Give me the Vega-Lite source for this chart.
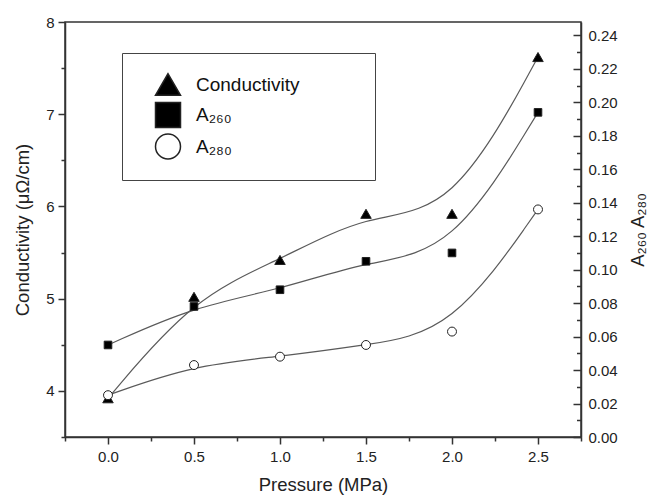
{
  "$schema": "https://vega.github.io/schema/vega-lite/v6.json",
  "width": 516,
  "height": 415,
  "autosize": "none",
  "padding": {"left": 65, "top": 22, "right": 75, "bottom": 61},
  "background": "white",
  "data": {
    "values": [
      {"p": 0, "series": "Conductivity", "cond": 3.92},
      {"p": 0.5, "series": "Conductivity", "cond": 5.02},
      {"p": 1.0, "series": "Conductivity", "cond": 5.42},
      {"p": 1.5, "series": "Conductivity", "cond": 5.92},
      {"p": 2.0, "series": "Conductivity", "cond": 5.92},
      {"p": 2.5, "series": "Conductivity", "cond": 7.62},
      {"p": 0, "series": "A₂₆₀", "abs": 0.055},
      {"p": 0.5, "series": "A₂₆₀", "abs": 0.078},
      {"p": 1.0, "series": "A₂₆₀", "abs": 0.088},
      {"p": 1.5, "series": "A₂₆₀", "abs": 0.105},
      {"p": 2.0, "series": "A₂₆₀", "abs": 0.110},
      {"p": 2.5, "series": "A₂₆₀", "abs": 0.194},
      {"p": 0, "series": "A₂₈₀", "abs": 0.025},
      {"p": 0.5, "series": "A₂₈₀", "abs": 0.043},
      {"p": 1.0, "series": "A₂₈₀", "abs": 0.048},
      {"p": 1.5, "series": "A₂₈₀", "abs": 0.055},
      {"p": 2.0, "series": "A₂₈₀", "abs": 0.063},
      {"p": 2.5, "series": "A₂₈₀", "abs": 0.136}
    ]
  },
  "encoding": {
    "x": {
      "field": "p",
      "type": "quantitative",
      "scale": {"domain": [-0.25, 2.75], "nice": false, "zero": false},
      "axis": {
        "title": "Pressure (MPa)",
        "values": [-0.25, 0, 0.25, 0.5, 0.75, 1, 1.25, 1.5, 1.75, 2, 2.25, 2.5, 2.75],
        "labelExpr": "round(datum.value*4) % 2 === 0 ? format(datum.value, '.1f') : ''",
        "tickSize": {"condition": {"test": "round(datum.value*4) % 2 === 0", "value": 7}, "value": 4},
        "labelPadding": 5,
        "titlePadding": 11,
        "labelFlush": false,
        "labelOverlap": false
      }
    }
  },
  "layer": [
    {
      "transform": [{"filter": "datum.series === 'Conductivity'"}],
      "encoding": {
        "y": {
          "field": "cond",
          "type": "quantitative",
          "scale": {"domain": [3.5, 8], "nice": false, "zero": false},
          "axis": {
            "orient": "left",
            "title": "Conductivity (μΩ/cm)",
            "values": [3.5, 4, 4.5, 5, 5.5, 6, 6.5, 7, 7.5, 8],
            "labelExpr": "datum.value % 1 === 0 ? format(datum.value, 'd') : ''",
            "tickSize": {"condition": {"test": "datum.value % 1 === 0", "value": 7}, "value": 4},
            "labelPadding": 4,
            "titlePadding": 13,
            "labelFlush": false,
            "labelOverlap": false
          }
        }
      },
      "layer": [
        {
          "mark": {"type": "line", "interpolate": "basis", "color": "#5a5a5a", "strokeWidth": 1.2}
        },
        {
          "mark": {"type": "point", "filled": true, "stroke": "#222", "strokeWidth": 1, "opacity": 1, "size": 110},
          "encoding": {
            "shape": {
              "field": "series",
              "type": "nominal",
              "scale": {"domain": ["Conductivity", "A₂₆₀", "A₂₈₀"], "range": ["triangle-up", "square", "circle"]},
              "legend": {
                "orient": "none",
                "legendX": 57,
                "legendY": 31,
                "title": "\u00a0",
                "titleOrient": "right",
                "titlePadding": 58,
                "titleFontSize": 11,
                "padding": 18,
                "strokeColor": "#444",
                "fillColor": "white",
                "symbolSize": 625,
                "symbolOffset": 14.5,
                "labelOffset": 14.5,
                "rowPadding": 0.5,
                "labelFontSize": 19,
                "labelFont": "Liberation Sans",
                "labelColor": "#111",
                "labelLimit": 400,
                "encode": {
                  "symbols": {
                    "shape": {"value": {"expr": "datum.value === 'Conductivity' ? 'M-1.68,0H-0.56M0.56,0H1.68M0,-0.44L0.56,0.44L-0.56,0.44Z' : (datum.value === 'A₂₆₀' ? 'M-1.68,0H-0.44M0.44,0H1.68M-0.44,-0.44H0.44V0.44H-0.44Z' : 'M-1.68,0H-0.52M0.52,0H1.68M0.52,0A0.52,0.52,0,1,1,-0.52,0A0.52,0.52,0,1,1,0.52,0Z')"}},
                    "stroke": {"value": "#333"},
                    "strokeWidth": {"value": 1},
                    "opacity": {"value": 1}
                  }
                }
              }
            },
            "fill": {
              "field": "series",
              "type": "nominal",
              "scale": {"domain": ["Conductivity", "A₂₆₀", "A₂₈₀"], "range": ["#000000", "#000000", "#ffffff"]},
              "legend": {
                "orient": "none",
                "legendX": 57,
                "legendY": 31,
                "title": "\u00a0",
                "titleOrient": "right",
                "titlePadding": 58,
                "titleFontSize": 11,
                "padding": 18,
                "strokeColor": "#444",
                "fillColor": "white",
                "symbolSize": 625,
                "symbolOffset": 14.5,
                "labelOffset": 14.5,
                "rowPadding": 0.5,
                "labelFontSize": 19,
                "labelFont": "Liberation Sans",
                "labelColor": "#111",
                "labelLimit": 400,
                "encode": {
                  "symbols": {
                    "shape": {"value": {"expr": "datum.value === 'Conductivity' ? 'M-1.68,0H-0.56M0.56,0H1.68M0,-0.44L0.56,0.44L-0.56,0.44Z' : (datum.value === 'A₂₆₀' ? 'M-1.68,0H-0.44M0.44,0H1.68M-0.44,-0.44H0.44V0.44H-0.44Z' : 'M-1.68,0H-0.52M0.52,0H1.68M0.52,0A0.52,0.52,0,1,1,-0.52,0A0.52,0.52,0,1,1,0.52,0Z')"}},
                    "stroke": {"value": "#333"},
                    "strokeWidth": {"value": 1},
                    "opacity": {"value": 1}
                  }
                }
              }
            }
          }
        }
      ]
    },
    {
      "transform": [{"filter": "datum.series !== 'Conductivity'"}],
      "encoding": {
        "y": {
          "field": "abs",
          "type": "quantitative",
          "scale": {"domain": [0, 0.248], "nice": false, "zero": false},
          "axis": {
            "orient": "right",
            "title": "A₂₆₀ A₂₈₀",
            "titleAngle": 270,
            "values": [0, 0.01, 0.02, 0.03, 0.04, 0.05, 0.06, 0.07, 0.08, 0.09, 0.1, 0.11, 0.12, 0.13, 0.14, 0.15, 0.16, 0.17, 0.18, 0.19, 0.2, 0.21, 0.22, 0.23, 0.24],
            "labelExpr": "round(datum.value*100) % 2 === 0 ? format(datum.value, '.2f') : ''",
            "tickSize": {"condition": {"test": "round(datum.value*100) % 2 === 0", "value": -8}, "value": -4.5},
            "labelPadding": 15,
            "titlePadding": 30,
            "labelFlush": false,
            "labelOverlap": false
          }
        }
      },
      "layer": [
        {
          "mark": {"type": "line", "interpolate": "basis", "color": "#5a5a5a", "strokeWidth": 1.2},
          "encoding": {"detail": {"field": "series", "type": "nominal"}}
        },
        {
          "transform": [{"filter": "datum.series === 'A₂₆₀'"}],
          "mark": {"type": "point", "filled": true, "stroke": "#222", "strokeWidth": 1, "opacity": 1, "size": 58},
          "encoding": {
            "shape": {"field": "series", "type": "nominal"},
            "fill": {"field": "series", "type": "nominal"}
          }
        },
        {
          "transform": [{"filter": "datum.series === 'A₂₈₀'"}],
          "mark": {"type": "point", "filled": true, "stroke": "#222", "strokeWidth": 1, "opacity": 1, "size": 80},
          "encoding": {
            "shape": {"field": "series", "type": "nominal"},
            "fill": {"field": "series", "type": "nominal"}
          }
        }
      ]
    }
  ],
  "resolve": {"scale": {"y": "independent"}},
  "config": {
    "view": {"stroke": "#333", "strokeWidth": 1.5},
    "font": "Liberation Sans",
    "axis": {
      "grid": false,
      "labelFont": "Liberation Sans",
      "titleFont": "Liberation Sans",
      "labelFontSize": 15,
      "titleFontSize": 18.5,
      "titleFontWeight": "normal",
      "labelColor": "#222",
      "titleColor": "#222",
      "domainColor": "#333",
      "domainWidth": 1.5,
      "tickColor": "#333",
      "tickWidth": 1.5
    }
  }
}
